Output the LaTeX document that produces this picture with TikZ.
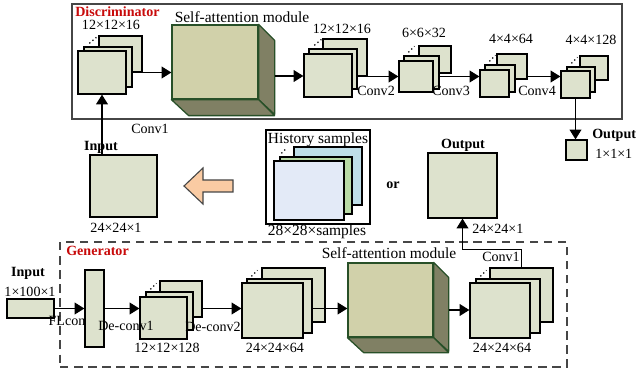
\documentclass[tikz,border=0pt]{standalone}
\usepackage{fontspec}
\setmainfont{Liberation Serif}
\usepackage{tikz}
\usetikzlibrary{arrows.meta, positioning, calc, fit}
\definecolor{mapfill}{RGB}{221,226,205}
\definecolor{cubefront}{RGB}{209,209,170}
\definecolor{cubeside}{RGB}{128,128,100}
\definecolor{cubeedge}{RGB}{40,80,40}
\definecolor{histblue}{RGB}{190,222,232}
\definecolor{histgreen}{RGB}{184,218,166}
\definecolor{histfront}{RGB}{227,234,247}
\definecolor{peach}{RGB}{250,203,163}
\definecolor{titlered}{RGB}{200,10,10}
\definecolor{framegray}{RGB}{70,70,70}
\tikzset{
  fmap/.style={rectangle, draw=black, fill=mapfill, inner sep=0pt, line width=0.9pt},
  histmap/.style={rectangle, draw=black, inner sep=0pt, line width=0.9pt},
  safront/.style={rectangle, draw=cubeedge, fill=cubefront, inner sep=0pt, line width=0.9pt},
  saside/.style={draw=cubeedge, fill=cubeside, line width=0.9pt, line join=round},
  frame/.style={rectangle, draw=framegray, inner sep=0pt, line width=1pt},
  arr/.style={-{Triangle[length=7pt,width=8.5pt]}, line width=0.8pt},
  dots/.style={dotted, line width=0.9pt},
  lbl/.style={inner sep=0pt, font=\fontsize{10}{12}\selectfont},
  wordlbl/.style={inner sep=0pt, font=\fontsize{11}{13}\selectfont},
  boldlbl/.style={inner sep=0pt, font=\fontsize{10}{12}\selectfont\bfseries},
  title/.style={boldlbl, text=titlered}
}

\begin{document}
\begin{tikzpicture}[x=0.025cm, y=-0.025cm]
  \useasboundingbox (0,0) rectangle (637,373);

  % Frames
  \node[frame, fit={(72,4) (622,119)}] (disc) {};
  \node[frame, dash pattern=on 6pt off 4pt, fit={(60,242) (567,367)}] (gen) {};
  \node[title, anchor=west] (disctitle) at (75,12) {Discriminator};
  \node[title, anchor=west] (gentitle) at (66,251) {Generator};

  % Discriminator: first feature maps
  \node[fmap, fit={(99,36) (142,72)}] (d1b) {};
  \node[fmap, fit={(84,47) (132,87)}] (d1m) {};
  \node[fmap, fit={(78,51) (126,94)}] (d1f) {};
  \draw[dots] ($(d1m.north west)+(6,-3)$) -- ++(7,-6);
  \node[lbl] (d1lbl) at (111,25) {12×12×16};

  % Discriminator: self-attention cube
  \node[safront, fit={(172,25) (258,99)}] (dsa) {};
  \draw[saside] (dsa.north east) -- ++(16,16) -- ++(0,74) -- (dsa.south east) -- cycle;
  \draw[saside] (dsa.south west) -- (dsa.south east) -- ++(16,16) -- ++(-86,0) -- cycle;
  \coordinate (dsar) at ($(dsa.east)+(16,14)$);
  \node[wordlbl] (dsalbl) at (242,17) {Self-attention module};

  % Discriminator: conv stacks
  \node[fmap, fit={(323,39) (367,76)}] (d2b) {};
  \node[fmap, fit={(309,49) (357,89)}] (d2m) {};
  \node[fmap, fit={(304,54) (352,97)}] (d2f) {};
  \draw[dots] ($(d2m.north west)+(6,-3)$) -- ++(7,-6);
  \node[lbl] (d2lbl) at (342,29) {12×12×16};

  \node[fmap, fit={(419,46) (451,73)}] (d3b) {};
  \node[fmap, fit={(404,56) (439,89)}] (d3m) {};
  \node[fmap, fit={(399,61) (433,92)}] (d3f) {};
  \draw[dots] ($(d3m.north west)+(5,-3)$) -- ++(6,-6);
  \node[lbl] (d3lbl) at (424,33) {6×6×32};

  \node[fmap, fit={(497,54) (527,79)}] (d4b) {};
  \node[fmap, fit={(485,65) (515,92)}] (d4m) {};
  \node[fmap, fit={(480,70) (509,97)}] (d4f) {};
  \draw[dots] ($(d4m.north west)+(5,-3)$) -- ++(6,-6);
  \node[lbl] (d4lbl) at (511,39) {4×4×64};

  \node[fmap, fit={(580,56) (608,80)}] (d5b) {};
  \node[fmap, fit={(567,67) (595,92)}] (d5m) {};
  \node[fmap, fit={(561,71) (590,98)}] (d5f) {};
  \draw[dots] ($(d5m.north west)+(5,-3)$) -- ++(6,-6);
  \node[lbl] (d5lbl) at (591,40) {4×4×128};

  % Discriminator arrows
  \draw[arr] (d1m.east |- d1f.east) -- (dsa.west |- d1f.east);
  \draw[arr] (dsar) -- (d2f.west |- dsar);
  \draw[arr] (d2m.east |- d3f.east) -- (d3f.west |- d3f.east);
  \draw[arr] (d3m.east |- d3f.east) -- (d4f.west |- d3f.east);
  \draw[arr] (d4b.east |- d3f.east) -- (d5f.west |- d3f.east);
  \node[lbl, anchor=west] (conv2) at (357,91) {Conv2};
  \node[lbl, anchor=west] (conv3) at (432,91) {Conv3};
  \node[lbl, anchor=west] (conv4) at (518,91) {Conv4};

  % Discriminator output
  \node[fmap, fit={(566,140) (587,160)}] (outD) {};
  \draw[arr] (d5f.south) -- (d5f.south |- outD.north);
  \node[boldlbl, anchor=west] (outDlbl) at (592,135) {Output};
  \node[lbl, anchor=west] (outDsz) at (595,154) {1×1×1};

  % Real input
  \node[fmap, fit={(90,155) (157,217)}] (inD) {};
  \draw[arr] (inD.north -| d1f.south) -- (d1f.south);
  \node[lbl] (conv1d) at (150,129) {Conv1};
  \node[boldlbl] (inDlbl) at (101,147) {Input};
  \node[lbl] (inDsz) at (116,228) {24×24×1};

  % Big arrow from samples
  \draw[draw=framegray, fill=peach, line width=0.8pt, line join=miter]
    (233,180) -- (203,180) -- (203,168) -- (184,186) -- (203,204) -- (203,192) -- (233,192) -- cycle;

  % History samples
  \node[frame, draw=black, fit={(266,130) (370,224)}] (hist) {};
  \node[histmap, fill=histblue, fit={(294,147) (362,205)}] (hb) {};
  \node[histmap, fill=histgreen, fit={(280,157) (352,214)}] (hg) {};
  \node[histmap, fill=histfront, fit={(274,161) (344,220)}] (hf) {};
  \draw[dots] ($(hg.north west)+(2,-3)$) -- ++(5,-5);
  \node[wordlbl] (histlbl) at (318,140) {History samples};
  \node[wordlbl] (histsz) at (317,232) {28×28×samples};

  \node[boldlbl] (orlbl) at (393,185) {or};

  % Generated output
  \node[fmap, fit={(428,153) (497,218)}] (outG) {};
  \node[boldlbl] (outGlbl) at (463,145) {Output};
  \node[lbl, anchor=west] (outGsz) at (472,229) {24×24×1};

  % Generator input and FC layer
  \node[fmap, fit={(7,299) (54,318)}] (inG) {};
  \node[boldlbl] (inGlbl) at (28,273) {Input};
  \node[lbl] (inGsz) at (30,292) {1×100×1};
  \node[fmap, fit={(85,270) (104,347)}] (fc) {};
  \node[lbl] (fclbl) at (67,321) {FLcon};

  % Generator stacks
  \node[fmap, fit={(160,281) (202,317)}] (g1b) {};
  \node[fmap, fit={(146,292) (193,330)}] (g1m) {};
  \node[fmap, fit={(140,297) (187,339)}] (g1f) {};
  \draw[dots] ($(g1m.north west)+(5,-2)$) -- ++(6,-6);
  \node[lbl] (g1lbl) at (167,348) {12×12×128};

  \node[fmap, fit={(262,268) (325,322)}] (g2b) {};
  \node[fmap, fit={(247,279) (312,333)}] (g2m) {};
  \node[fmap, fit={(242,283) (303,338)}] (g2f) {};
  \draw[dots] ($(g2m.north west)+(5,-2)$) -- ++(6,-6);
  \node[lbl] (g2lbl) at (275,348) {24×24×64};

  % Generator: self-attention cube
  \node[safront, fit={(348,263) (433,337)}] (gsa) {};
  \draw[saside] (gsa.north east) -- ++(15,15) -- ++(0,74) -- (gsa.south east) -- cycle;
  \draw[saside] (gsa.south west) -- (gsa.south east) -- ++(15,15) -- ++(-85,0) -- cycle;
  \coordinate (gsar) at ($(gsa.east)+(15,10)$);
  \node[wordlbl] (gsalbl) at (389,253) {Self-attention module};

  \node[fmap, fit={(490,268) (553,322)}] (g3b) {};
  \node[fmap, fit={(476,279) (540,333)}] (g3m) {};
  \node[fmap, fit={(470,283) (530,338)}] (g3f) {};
  \draw[dots] ($(g3m.north west)+(5,-2)$) -- ++(6,-6);
  \node[lbl] (g3lbl) at (502,348) {24×24×64};

  % Generator arrows
  \draw[arr] (inG.east) -- (fc.west |- inG.east);
  \draw[arr] (fc.east |- inG.east) -- (g1f.west |- inG.east);
  \draw[arr] (g1b.east |- inG.east) -- (g2f.west |- inG.east);
  \draw[arr] (g2m.east |- inG.east) -- (gsa.west |- inG.east);
  \draw[arr] (gsar) -- (g3f.west |- gsar);
  \draw[arr] (g3b.north) -- ++(0,-18) -| (outG.south);
  \node[lbl] (delbl1) at (126,326) {De-conv1};
  \node[lbl] (delbl2) at (213,327) {De-conv2};
  \node[lbl] (conv1g) at (501,257) {Conv1};
\end{tikzpicture}
\end{document}
